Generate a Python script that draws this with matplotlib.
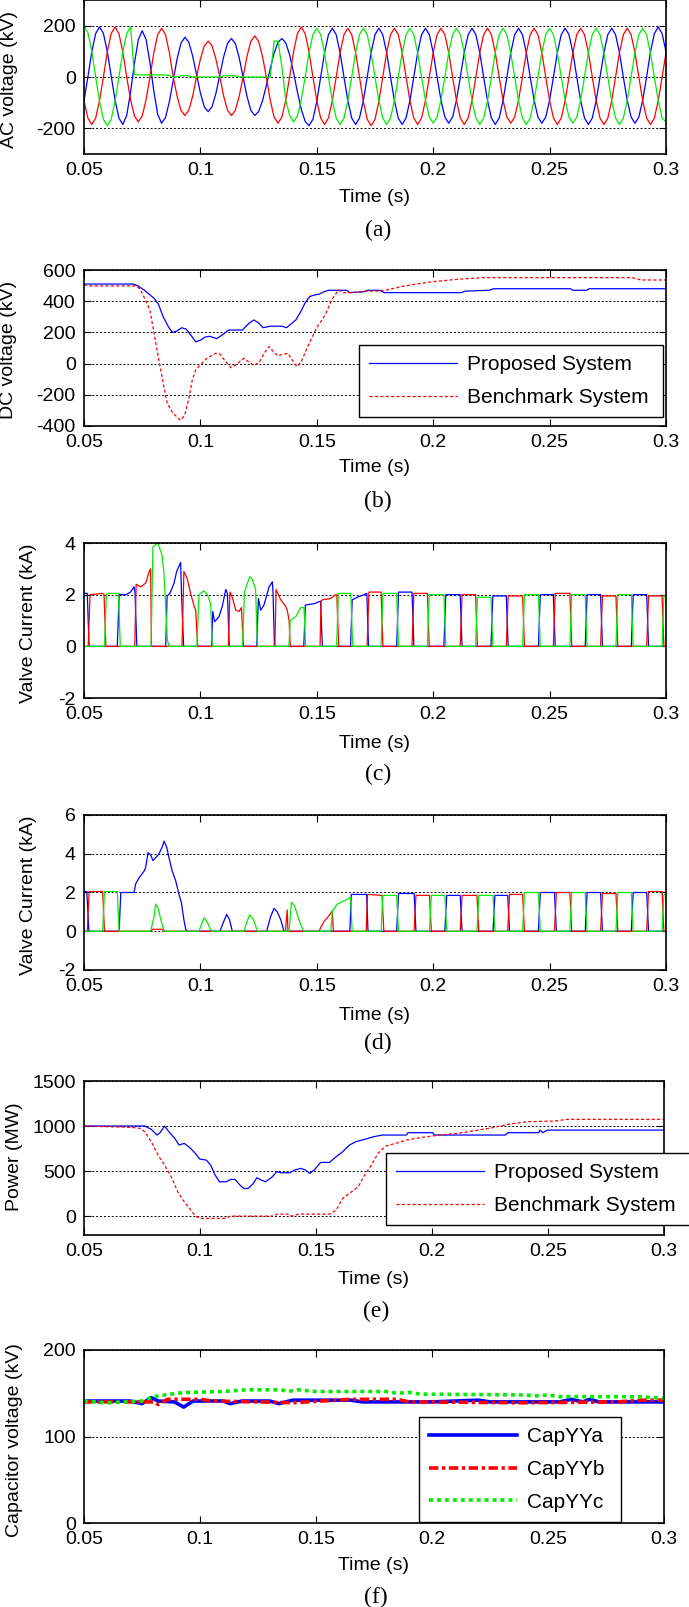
import numpy as np
import matplotlib
matplotlib.use('Agg')
import matplotlib.pyplot as plt

plt.rcParams['font.family'] = ['Liberation Sans', 'DejaVu Sans']
plt.rcParams['font.size'] = 14

# shared time axis
time_ticks = [0.05, 0.1, 0.15, 0.2, 0.25, 0.3]
time_labels = ['0.05', '0.1', '0.15', '0.2', '0.25', '0.3']

# (a) AC voltage, sampled every 1/600 s from 0.05 to 0.30
ac_t = np.linspace(0.05, 0.30, 151)
ac_blue = [-92, 0, 98, 169, 195, 170, 100, 5, -90, -160, -185, -150,
           -59, 54, 145, 180, 146, 56, -56, -146, -180, -158, -96, -12,
           71, 132, 155, 136, 82, 10, -62, -116, -135, -116, -64, 8,
           79, 131, 150, 130, 75, 0, -75, -130, -150, -135, -93, -33,
           33, 93, 135, 150, 133, 86, 18, -58, -126, -173, -190, -165,
           -95, 0, 95, 165, 190, 165, 95, 0, -92, -160, -185, -160,
           -92, 0, 95, 165, 190, 165, 95, 0, -92, -160, -185, -160,
           -92, 0, 95, 165, 190, 165, 95, 0, -90, -156, -180, -156,
           -90, 0, 95, 165, 190, 165, 95, 0, -92, -160, -185, -160,
           -92, 0, 95, 165, 190, 165, 95, 0, -90, -156, -180, -156,
           -90, 0, 95, 165, 190, 165, 95, 0, -92, -160, -185, -160,
           -92, 0, 95, 165, 190, 165, 95, 0, -90, -156, -180, -156,
           -90, 0, 98, 169, 195, 169, 98]
ac_red = [-92, -160, -185, -160, -92, 0, 98, 169, 195, 169, 98, 0,
          -88, -152, -175, -152, -88, 0, 95, 165, 190, 165, 95, 0,
          -75, -130, -150, -130, -75, 0, 70, 121, 140, 121, 70, 0,
          -75, -130, -150, -130, -75, 0, 80, 139, 160, 139, 80, 0,
          -90, -156, -180, -156, -90, 0, 98, 169, 195, 169, 98, 0,
          -92, -160, -185, -160, -92, 0, 95, 165, 190, 165, 95, 0,
          -95, -165, -190, -165, -95, 0, 95, 165, 190, 165, 95, 0,
          -92, -160, -185, -160, -92, 0, 95, 165, 190, 165, 95, 0,
          -92, -160, -185, -160, -92, 0, 95, 165, 190, 165, 95, 0,
          -90, -156, -180, -156, -90, 0, 95, 165, 190, 165, 95, 0,
          -92, -160, -185, -160, -92, 0, 95, 165, 190, 165, 95, 0,
          -92, -160, -185, -160, -92, 0, 95, 165, 190, 165, 95, 0,
          -92, -160, -185, -160, -92, 0, 95]
ac_green = [200, 173, 100, 0, -95, -165, -190, -165, -95, 0, 98, 169,
            195, 10, 8, 8, 8, 8, 8, 8, 8, 8, 5, 0,
            0, 5, 5, 5, 0, 0, 0, 0, 0, 0, 0, 0,
            5, 5, 5, 5, 0, 0, 0, 0, 0, 0, 0, 0,
            0, 140, 140, 40, -90, -150, -175, -152, -88, 0, 95, 165,
            190, 165, 92, 0, -92, -160, -185, -160, -92, 0, 95, 165,
            190, 165, 92, 0, -92, -160, -185, -160, -92, 0, 95, 165,
            190, 165, 92, 0, -90, -156, -180, -156, -90, 0, 95, 165,
            190, 165, 92, 0, -92, -160, -185, -160, -92, 0, 95, 165,
            190, 165, 92, 0, -92, -160, -185, -160, -92, 0, 95, 165,
            190, 165, 92, 0, -90, -156, -180, -156, -90, 0, 95, 165,
            190, 165, 92, 0, -92, -160, -185, -160, -92, 0, 95, 165,
            190, 165, 92, 0, -92, -160, -175]

# (b) DC voltage (kV)
dc_prop_t = [0.05, 0.071, 0.073, 0.076, 0.080, 0.082, 0.084, 0.0865, 0.088, 0.090, 0.092, 0.094,
             0.096, 0.098, 0.100, 0.102, 0.104, 0.107, 0.110, 0.112, 0.118, 0.121, 0.123, 0.125,
             0.127, 0.130, 0.135, 0.137, 0.141, 0.143, 0.145, 0.147, 0.149, 0.151, 0.153, 0.155,
             0.163, 0.164, 0.170, 0.172, 0.177, 0.179, 0.212, 0.214, 0.224, 0.226, 0.259, 0.260,
             0.266, 0.267, 0.30]
dc_prop = [510, 510, 500, 470, 420, 380, 300, 230, 200, 210, 230, 220,
           180, 140, 150, 170, 175, 160, 190, 215, 215, 260, 280, 260,
           230, 240, 240, 230, 280, 330, 390, 430, 440, 445, 460, 470,
           470, 455, 460, 470, 470, 455, 455, 465, 470, 480, 480, 470,
           470, 480, 480]
dc_bench_t = [0.05, 0.053, 0.072, 0.074, 0.076, 0.0783, 0.0801, 0.082, 0.0843, 0.0858, 0.0881, 0.0905,
              0.0915, 0.0933, 0.0952, 0.0965, 0.098, 0.0999, 0.1028, 0.1065, 0.1084, 0.1103, 0.1131, 0.115,
              0.1188, 0.1206, 0.1231, 0.1254, 0.1278, 0.1295, 0.1314, 0.1333, 0.1357, 0.1376, 0.1395, 0.1414,
              0.1433, 0.1461, 0.1498, 0.1536, 0.1564, 0.1593, 0.1611, 0.1649, 0.1706, 0.1762, 0.18, 0.1875,
              0.1951, 0.1998, 0.2101, 0.2214, 0.2855, 0.2893, 0.30]
dc_bench = [505, 498, 498, 480, 420, 343, 194, 34, -148, -255, -315, -351,
            -362, -330, -212, -105, -41, -9, 34, 66, 62, 23, -26, -9,
            34, 12, -13, 12, 76, 109, 76, 49, 62, 66, 23, -20,
            12, 109, 226, 312, 408, 472, 455, 455, 465, 465, 472, 497,
            515, 525, 540, 551, 551, 536, 536]

# (c) valve currents (kA), fault period as (t, i) points
vc_blue = [(0.05, 2.05), (0.0514, 2.05), (0.0522, 0), (0.0643, 0), (0.0651, 2.0), (0.068, 2.0),
           (0.070, 2.1), (0.0715, 2.3), (0.0719, 2.1), (0.0727, 0), (0.0851, 0), (0.0857, 1.95),
           (0.0869, 2.05), (0.0887, 2.45), (0.0898, 2.9), (0.0915, 3.25), (0.0919, 2.0), (0.0928, 0),
           (0.1048, 0), (0.1053, 1.35), (0.1061, 0.95), (0.108, 1.15), (0.1094, 1.55), (0.1109, 2.2),
           (0.1116, 2.05), (0.1124, 0), (0.1242, 0), (0.1249, 1.85), (0.1259, 1.4), (0.1273, 1.6),
           (0.1295, 2.3), (0.1309, 2.5), (0.1312, 2.1), (0.1318, 0), (0.1444, 0), (0.1451, 1.6),
           (0.1488, 1.65), (0.1516, 1.75), (0.1524, 0), (0.1645, 0), (0.1652, 1.8), (0.1674, 1.9),
           (0.1703, 2.0), (0.1715, 2.05), (0.1722, 0)]
vc_red = [(0.05, 0), (0.0518, 0), (0.0526, 2.0), (0.058, 2.05), (0.0586, 2.0), (0.0594, 0),
          (0.0718, 0), (0.0724, 2.4), (0.0744, 2.3), (0.0765, 2.45), (0.078, 2.9), (0.0786, 3.0),
          (0.0790, 0), (0.0921, 0), (0.0929, 2.9), (0.0944, 2.6), (0.0958, 2.05), (0.0973, 1.55),
          (0.098, 1.4), (0.0988, 0), (0.1120, 0), (0.1127, 2.1), (0.1137, 1.9), (0.1152, 1.4),
          (0.1166, 1.35), (0.1176, 1.5), (0.1185, 0), (0.1320, 0), (0.1325, 2.2), (0.1345, 1.8),
          (0.1366, 1.55), (0.1373, 1.4), (0.1381, 1.0), (0.1386, 0), (0.1514, 0), (0.1518, 1.75),
          (0.1524, 1.8), (0.156, 1.85), (0.1581, 2.0), (0.1586, 2.0), (0.1594, 0)]
vc_green = [(0.05, 0), (0.0588, 0), (0.0596, 2.0), (0.0605, 2.05), (0.0648, 2.05), (0.0656, 0),
            (0.0788, 0), (0.0796, 3.85), (0.0818, 4.0), (0.0836, 3.5), (0.0843, 2.85), (0.0851, 1.55),
            (0.0858, 0.25), (0.0865, 0), (0.0985, 0), (0.0994, 2.0), (0.1015, 2.15), (0.1030, 2.0),
            (0.1044, 1.65), (0.1051, 0), (0.1181, 0), (0.1189, 2.1), (0.1212, 2.7), (0.1223, 2.6),
            (0.1237, 2.2), (0.1245, 0), (0.138, 0), (0.1386, 1.0), (0.141, 1.15), (0.1431, 1.5),
            (0.1445, 1.5), (0.1452, 0)]
# steady conduction intervals: (on, off, level)
vc_blue_pulses = [(0.1847, 0.1913, 2.1), (0.2050, 0.2120, 2.0), (0.2252, 0.2318, 1.95),
                  (0.2456, 0.2520, 2.0), (0.2657, 0.2723, 2.0), (0.2855, 0.2921, 2.0)]
vc_red_pulses = [(0.1720, 0.1780, 2.1), (0.1913, 0.1979, 2.05), (0.2120, 0.2186, 2.0),
                 (0.2318, 0.2388, 1.95), (0.2520, 0.2591, 2.05), (0.2723, 0.2789, 1.95),
                 (0.2921, 0.2987, 1.95)]
vc_green_pulses = [(0.1589, 0.1650, 2.05), (0.1780, 0.1847, 2.05), (0.1979, 0.2050, 2.0),
                   (0.2186, 0.2252, 1.9), (0.2388, 0.2456, 2.0), (0.2591, 0.2657, 2.0),
                   (0.2789, 0.2855, 2.0), (0.2987, 0.3040, 1.95)]

# (d) valve currents (kA), second converter
vd_blue = [(0.05, 2.05), (0.0512, 2.05), (0.0521, 0), (0.0651, 0), (0.0658, 2.0), (0.0715, 2.0),
           (0.0722, 2.45), (0.0736, 2.75), (0.0758, 3.1), (0.0765, 3.3), (0.0775, 4.05), (0.0786, 3.95),
           (0.0796, 3.65), (0.0808, 3.8), (0.0822, 4.0), (0.0836, 4.35), (0.0844, 4.65), (0.0855, 4.35),
           (0.0865, 3.8), (0.0879, 3.1), (0.0894, 2.6), (0.0908, 1.9), (0.0918, 1.5), (0.0929, 0.6),
           (0.0937, 0.1), (0.0945, 0), (0.1084, 0), (0.1100, 0.5), (0.1113, 0.87), (0.1125, 0.6),
           (0.1137, 0), (0.1285, 0), (0.1300, 0.7), (0.1316, 1.18), (0.1330, 1.0), (0.1345, 0.6),
           (0.1359, 0), (0.1642, 0), (0.1648, 1.9), (0.1714, 1.9), (0.1720, 0)]
vd_red = [(0.05, 0), (0.0514, 0), (0.0522, 2.05), (0.0580, 2.05), (0.0588, 0), (0.0786, 0),
          (0.0795, 0.1), (0.0836, 0.1), (0.0844, 0), (0.1365, 0), (0.1373, 1.1), (0.1376, 0),
          (0.1510, 0), (0.1517, 0.2), (0.1531, 0.5), (0.1552, 0.8), (0.1567, 1.05), (0.1571, 0),
          (0.1712, 0), (0.1718, 1.9), (0.1780, 1.85), (0.1788, 0)]
vd_green = [(0.05, 0), (0.0580, 0), (0.0588, 2.05), (0.0643, 2.05), (0.0651, 0), (0.0786, 0),
            (0.0800, 0.7), (0.0808, 1.4), (0.0818, 1.2), (0.0830, 0.6), (0.0844, 0), (0.0994, 0),
            (0.1006, 0.4), (0.1016, 0.7), (0.1030, 0.45), (0.1047, 0), (0.1187, 0), (0.1200, 0.5),
            (0.1212, 0.85), (0.1228, 0.6), (0.1245, 0), (0.1381, 0), (0.1391, 1.5), (0.1405, 1.3),
            (0.1418, 0.8), (0.1432, 0.3), (0.1445, 0), (0.1560, 0), (0.1567, 1.05), (0.1588, 1.4),
            (0.1631, 1.65), (0.1645, 1.75), (0.1652, 0)]
vd_blue_pulses = [(0.1847, 0.1922, 1.95), (0.2054, 0.2120, 1.85), (0.2261, 0.2324, 1.85),
                  (0.2456, 0.2525, 2.0), (0.2657, 0.2723, 2.0), (0.2855, 0.2921, 2.0)]
vd_red_pulses = [(0.1922, 0.1988, 1.85), (0.2120, 0.2192, 1.85), (0.2324, 0.2388, 1.9),
                 (0.2525, 0.2591, 2.0), (0.2723, 0.2789, 1.95), (0.2921, 0.2987, 2.05)]
vd_green_pulses = [(0.1780, 0.1847, 1.85), (0.1988, 0.2054, 1.85), (0.2192, 0.2261, 1.85),
                   (0.2388, 0.2456, 2.0), (0.2591, 0.2657, 2.0), (0.2789, 0.2855, 2.0),
                   (0.2987, 0.3040, 1.9)]

# (e) power (MW)
pw_prop_t = [0.05, 0.0667, 0.0705, 0.0747, 0.0762, 0.079, 0.0815, 0.0828, 0.0847, 0.0866, 0.0891, 0.091,
             0.0932, 0.0955, 0.098, 0.0999, 0.1027, 0.1046, 0.1065, 0.1084, 0.1113, 0.1132, 0.1151, 0.1175,
             0.1189, 0.1208, 0.123, 0.1245, 0.1264, 0.1283, 0.1312, 0.1331, 0.135, 0.1388, 0.1407, 0.1435,
             0.1454, 0.1473, 0.1492, 0.152, 0.1558, 0.1587, 0.1615, 0.1644, 0.1672, 0.171, 0.1748, 0.1786,
             0.189, 0.1896, 0.2004, 0.201, 0.2317, 0.2327, 0.246, 0.2465, 0.2478, 0.2497, 0.30]
pw_prop = [1000, 1000, 1000, 1000, 1000, 963, 900, 926, 1000, 937, 863, 789,
           807, 763, 696, 633, 622, 567, 456, 381, 381, 407, 407, 337,
           307, 307, 363, 426, 400, 381, 437, 493, 481, 481, 511, 530,
           511, 474, 511, 596, 596, 659, 715, 789, 826, 852, 881, 900,
           900, 926, 926, 900, 900, 926, 926, 955, 926, 955, 955]
pw_bench_t = [0.05, 0.0705, 0.0743, 0.0762, 0.079, 0.0819, 0.0847, 0.0876, 0.0904, 0.0932, 0.0961, 0.098,
              0.0999, 0.1103, 0.1132, 0.1321, 0.1331, 0.1378, 0.1397, 0.1426, 0.1558, 0.1587, 0.1615, 0.1653,
              0.1682, 0.171, 0.1739, 0.1767, 0.1801, 0.1843, 0.189, 0.1957, 0.2033, 0.2108, 0.2184, 0.226,
              0.2336, 0.2412, 0.2526, 0.2583, 0.30]
pw_bench = [1000, 985, 974, 937, 826, 678, 567, 437, 270, 159, 67, 0,
            -26, -26, 0, 0, 22, 22, 0, 22, 22, 67, 196, 270,
            326, 456, 567, 696, 778, 807, 844, 874, 900, 918, 948, 981,
            1022, 1048, 1055, 1074, 1074]

# (f) capacitor voltage (kV)
cap_a_t = [0.05, 0.07, 0.075, 0.079, 0.082, 0.089, 0.093, 0.097, 0.11, 0.113, 0.118, 0.13, 0.134,
           0.14, 0.165, 0.17, 0.2, 0.22, 0.225, 0.255, 0.26, 0.265, 0.268, 0.272, 0.30]
cap_a = [141, 141, 138, 145, 141, 140, 134, 141, 141, 138, 141, 141, 138,
         142, 142, 140, 140, 142, 140, 140, 143, 140, 143, 140, 140]
cap_b_t = [0.05, 0.08, 0.082, 0.086, 0.10, 0.105, 0.125, 0.14, 0.165, 0.185, 0.19, 0.24, 0.28, 0.29, 0.30]
cap_b = [140, 140, 137, 143, 143, 141, 140, 139, 143, 143, 140, 139, 140, 142, 142]
cap_c_t = [0.05, 0.06, 0.075, 0.08, 0.09, 0.095, 0.11, 0.12, 0.135, 0.138, 0.142, 0.15, 0.18, 0.185,
           0.19, 0.195, 0.24, 0.245, 0.25, 0.255, 0.29, 0.30]
cap_c = [141, 139, 141, 146, 150, 151, 152, 154, 154, 152, 154, 152, 152, 150,
         151, 149, 148, 147, 148, 146, 146, 144]

W, H = 689, 1607
fig = plt.figure(figsize=(W / 100, H / 100), dpi=100)


def px_axes(l, t, r, b):
    return fig.add_axes([l / W, 1 - b / H, (r - l) / W, (b - t) / H])


def ftext(x, y, s, **kw):
    fig.text(x / W, 1 - y / H, s, ha='center', va='center', **kw)


def style(ax, ylim, yticks):
    ax.set_xlim(0.05, 0.3)
    ax.set_ylim(*ylim)
    ax.set_xticks(time_ticks)
    ax.set_xticklabels(time_labels)
    ax.set_yticks(yticks)
    ax.set_yticklabels([str(v) for v in yticks])
    ax.tick_params(direction='in', top=True, right=True, length=5, width=0.8, pad=6, labelsize=14)
    ax.grid(axis='y', color='k', linestyle=(0, (2, 2)), linewidth=0.7)
    for s in ax.spines.values():
        s.set_linewidth(1.2)


def valve(points, pulses, r=0.0004):
    t = [p[0] for p in points]
    v = [p[1] for p in points]
    for on, off, lev in pulses:
        t += [on - r, on + r, off - r, off + r]
        v += [0, lev, lev, 0]
    if t[-1] < 0.3:
        t.append(0.3)
        v.append(0)
    return t, v


def px_legend(ax, handles, labels, l, t, r, b):
    leg = ax.legend(handles, labels, loc='upper left',
                    bbox_to_anchor=(l / W, 1 - b / H, (r - l) / W, (b - t) / H),
                    bbox_transform=fig.transFigure, mode='expand', borderaxespad=0,
                    fancybox=False, framealpha=1, edgecolor='k', handlelength=4.2,
                    handletextpad=0.5, borderpad=0.5, labelspacing=0.65, fontsize=15)
    leg.get_frame().set_linewidth(1.0)


BLUE, RED, GREEN = '#0000ff', '#ff0000', '#00ee00'
lw = 0.9
CAP = dict(family='Liberation Serif', fontsize=17)

# (a)
ax = px_axes(84, 0, 666, 154)
ax.plot(ac_t, ac_blue, color=BLUE, lw=lw)
ax.plot(ac_t, ac_red, color=RED, lw=lw)
ax.plot(ac_t, ac_green, color=GREEN, lw=lw)
style(ax, (-300, 300), [-200, 0, 200])
ftext(10, 80, 'AC voltage (kV)', rotation=90)
ftext(375, 197, 'Time (s)')
ftext(378, 230, '(a)', **CAP)

# (b)
ax = px_axes(84, 270, 666, 426)
l1, = ax.plot(dc_prop_t, dc_prop, color=BLUE, lw=lw)
l2, = ax.plot(dc_bench_t, dc_bench, color=RED, lw=lw, dashes=(2.5, 1.8))
style(ax, (-400, 600), [-400, -200, 0, 200, 400, 600])
px_legend(ax, [l1, l2], ['Proposed System', 'Benchmark System'], 359, 345, 663, 418)
ftext(9, 350, 'DC voltage (kV)', rotation=90)
ftext(375, 467, 'Time (s)')
ftext(378, 501, '(b)', **CAP)

# (c)
ax = px_axes(84, 543, 666, 698)
for pts, pul, c in [(vc_blue, vc_blue_pulses, BLUE), (vc_red, vc_red_pulses, RED),
                    (vc_green, vc_green_pulses, GREEN)]:
    t, v = valve(pts, pul)
    ax.plot(t, v, color=c, lw=lw)
style(ax, (-2, 4), [-2, 0, 2, 4])
ftext(29, 623, 'Valve Current (kA)', rotation=90)
ftext(375, 743, 'Time (s)')
ftext(378, 774, '(c)', **CAP)

# (d)
ax = px_axes(84, 815, 666, 970)
for pts, pul, c in [(vd_blue, vd_blue_pulses, BLUE), (vd_red, vd_red_pulses, RED),
                    (vd_green, vd_green_pulses, GREEN)]:
    t, v = valve(pts, pul)
    ax.plot(t, v, color=c, lw=lw)
style(ax, (-2, 6), [-2, 0, 2, 4, 6])
ftext(29, 895, 'Valve Current (kA)', rotation=90)
ftext(375, 1015, 'Time (s)')
ftext(378, 1043, '(d)', **CAP)

# (e)
ax = px_axes(84, 1081, 664, 1235)
l1, = ax.plot(pw_prop_t, pw_prop, color=BLUE, lw=lw)
l2, = ax.plot(pw_bench_t, pw_bench, color=RED, lw=lw, dashes=(2.5, 1.8))
style(ax, (-210, 1500), [0, 500, 1000, 1500])
px_legend(ax, [l1, l2], ['Proposed System', 'Benchmark System'], 386, 1153, 690, 1227)
ftext(15, 1157, 'Power (MW)', rotation=90)
ftext(374, 1280, 'Time (s)')
ftext(376, 1311, '(e)', **CAP)

# (f)
ax = px_axes(84, 1350, 664, 1523)
l1, = ax.plot(cap_a_t, cap_a, color=BLUE, lw=2.6)
l2, = ax.plot(cap_b_t, cap_b, color=RED, lw=2.6, dashes=(2.6, 1.0, 0.9, 1.0))
l3, = ax.plot(cap_c_t, cap_c, color=GREEN, lw=2.6, dashes=(1.1, 1.1), dash_capstyle='butt')
style(ax, (0, 200), [0, 100, 200])
px_legend(ax, [l1, l2, l3], ['CapYYa', 'CapYYb', 'CapYYc'], 419, 1417, 621, 1522)
ftext(15, 1440, 'Capacitor voltage (kV)', rotation=90)
ftext(374, 1565, 'Time (s)')
ftext(376, 1597, '(f)', **CAP)

fig.savefig('out.png', dpi=100)
